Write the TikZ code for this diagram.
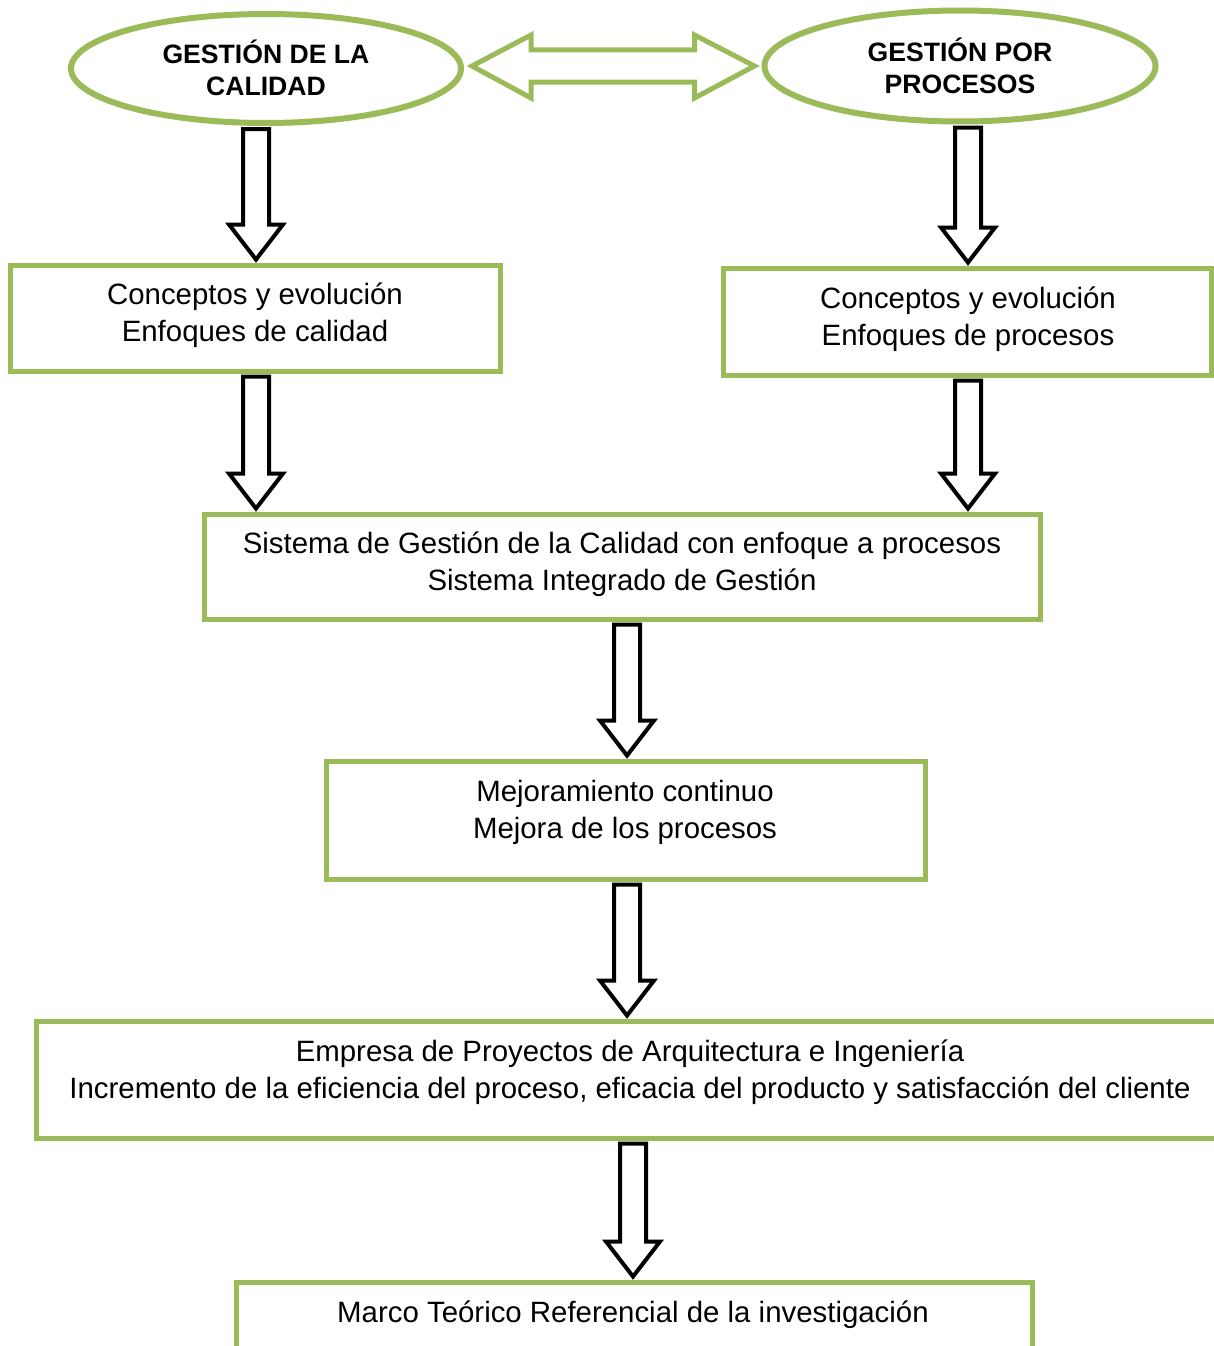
\documentclass[tikz,border=0pt]{standalone}
\usepackage{fontspec}
\setmainfont{Liberation Sans}
\usetikzlibrary{shapes.geometric,calc}

\definecolor{olive}{HTML}{9BBB59}

\tikzset{
  topic/.style={ellipse, draw=olive, line width=6pt, inner sep=0pt},
  stage/.style={rectangle, draw=olive, line width=5pt, inner sep=0pt},
  label/.style={align=center, inner sep=0pt, font=\fontsize{29.4}{36.8}\selectfont},
  toplabel/.style={align=center, inner sep=0pt, font=\fontsize{26.6}{32}\selectfont\bfseries},
  hollow/.style={draw=black, line width=4pt, fill=white, line join=miter},
  twoway/.style={draw=olive, line width=5pt, fill=white, line join=miter}
}

% hollow block arrow pointing down: #1 start anchor, #2 end anchor, #3 shaft x
\newcommand\blockdown[3]{%
  \draw[hollow] let \p1=(#1), \p2=(#2) in
    (#3-13,\y1-3pt) -- (#3+13,\y1-3pt) -- (#3+13,\y2+38pt) -- (#3+27,\y2+38pt)
    -- (#3,\y2+3pt) -- (#3-27,\y2+38pt) -- (#3-13,\y2+38pt) -- cycle;}

\begin{document}
\begin{tikzpicture}[x=1pt,y=-1pt]
\useasboundingbox (0,0) rectangle (1214,1346);

% the two starting topics
\node[topic, minimum width=390, minimum height=109] (e1) at (266,68.5) {};
\node[toplabel] (t1) at (266,68) {GESTIÓN DE LA\\CALIDAD};
\node[topic, minimum width=391, minimum height=111] (e2) at (960,66) {};
\node[toplabel] (t2) at (960,66) {GESTIÓN POR\\PROCESOS};

% two-headed link between the topics
\draw[twoway] let \p1=(e1.east), \p2=(e2.west) in
  (\x1+8pt,66) -- (\x1+67pt,35) -- (\x1+67pt,50) -- (\x2-67pt,50) -- (\x2-67pt,35)
  -- (\x2-7pt,66) -- (\x2-67pt,98) -- (\x2-67pt,82) -- (\x1+67pt,82) -- (\x1+67pt,98) -- cycle;

% stages
\node[stage, minimum width=490, minimum height=106] (b1) at (255,318) {};
\node[label] (l1) at (255,315.5) {Conceptos y evolución\\Enfoques de calidad};

\node[stage, minimum width=488, minimum height=107] (b2) at (967,321.5) {};
\node[label] (l2) at (968,319) {Conceptos y evolución\\Enfoques de procesos};

\node[stage, minimum width=836, minimum height=105] (b3) at (622,566.5) {};
\node[label] (l3) at (622,564) {Sistema de Gestión de la Calidad con enfoque a procesos\\Sistema Integrado de Gestión};

\node[stage, minimum width=599, minimum height=118] (b4) at (625.5,820) {};
\node[label] (l4) at (625,812) {Mejoramiento continuo\\Mejora de los procesos};

\node[stage, minimum width=1200, minimum height=117] (b5) at (636,1079.5) {};
\node[label] (l5) at (630,1072) {Empresa de Proyectos de Arquitectura e Ingeniería\\Incremento de la eficiencia del proceso, eficacia del producto y satisfacción del cliente};

\node[stage, minimum width=796, minimum height=120] (b6) at (634,1342) {};
\node[label] (l6) at (633,1315) {Marco Teórico Referencial de la investigación};

% flow arrows
\blockdown{e1.south}{b1.north}{256}
\blockdown{e2.south}{b2.north}{968}
\blockdown{b1.south}{b3.north}{256}
\blockdown{b2.south}{b3.north}{968}
\blockdown{b3.south}{b4.north}{627}
\blockdown{b4.south}{b5.north}{627}
\blockdown{b5.south}{b6.north}{633}
\end{tikzpicture}
\end{document}
